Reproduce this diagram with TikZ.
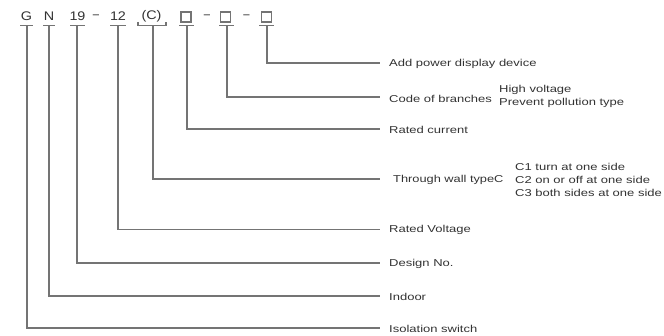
\documentclass[tikz,border=0pt]{standalone}
\usepackage{fontspec}
\usepackage{graphicx}
\setmainfont{Liberation Sans}
\definecolor{ln}{HTML}{747474}
\definecolor{tx}{HTML}{333333}
\newcommand{\widetxt}[1]{\scalebox{1.3}[1]{#1}}
\newcommand{\widecode}[1]{\scalebox{1.15}[1]{#1}}
\begin{document}
\begin{tikzpicture}[x=1pt,y=-1pt,
  lbl/.style={anchor=west,inner sep=0pt,text=tx,font=\fontsize{10}{11}\selectfont},
  code/.style={inner sep=0pt,text=tx,font=\fontsize{12.5}{13}\selectfont},
  lead/.style={draw=ln,line width=1.2pt},
  ul/.style={draw=ln,line width=1.1pt},
  boxc/.style={draw=ln,line width=1.1pt,minimum width=10pt,minimum height=10pt,inner sep=0pt}]
\useasboundingbox[fill=white] (0,0) rectangle (664,336);

% code characters
\node[code] (g)  at (26.5,16.5) {\widecode{G}};
\node[code] (n)  at (49,16.5) {\widecode{N}};
\node[code] (c19) at (77.5,16.5) {\widecode{19}};
\node[code] (d1) at (96,16.5) {\scalebox{0.9}[1]{–}};
\node[code] (c12) at (118,16.5) {\widecode{12}};
\node[code] (cc) at (151.5,16.5) {\widecode{(C)}};
\node[boxc] (b1) at (186,17) {};
\node[code] (d2) at (207,16.5) {\scalebox{0.9}[1]{–}};
\node[boxc] (b2) at (225.5,17) {};
\node[code] (d3) at (246.5,16.5) {\scalebox{0.9}[1]{–}};
\node[boxc] (b3) at (266.5,17) {};

% underlines
\draw[ul] (20,25.5) -- (33,25.5);
\draw[ul] (43,25.5) -- (55,25.5);
\draw[ul] (70,25.5) -- (85,25.5);
\draw[ul] (110,25.5) -- (126,25.5);
\draw[ul] (138,22) -- (138,25.5) -- (166,25.5) -- (166,22);
\draw[ul] (179,25.5) -- (194,25.5);
\draw[ul] (219,25.5) -- (234,25.5);
\draw[ul] (259,25.5) -- (274,25.5);

\coordinate (gu) at (27,25.5);
\coordinate (nu) at (49,25.5);
\coordinate (u19) at (77,25.5);
\coordinate (u12) at (118,25.5);
\coordinate (ucc) at (153,25.5);
\coordinate (ub1) at (187,25.5);
\coordinate (ub2) at (227,25.5);
\coordinate (ub3) at (267,25.5);

% labels
\node[lbl] (l1) at (389,64) {\widetxt{Add power display device}};
\node[lbl] (l2) at (389,98.5) {\widetxt{Code of branches}};
\node[lbl] (l2a) at (499,90) {\widetxt{High voltage}};
\node[lbl] (l2b) at (499,103) {\widetxt{Prevent pollution type}};
\node[lbl] (l3) at (389,130) {\widetxt{Rated current}};
\node[lbl] (l4) at (393,179.5) {\scalebox{1.28}[1]{Through wall typeC}};
\node[lbl] (l4a) at (515,166.5) {\widetxt{C1 turn at one side}};
\node[lbl] (l4b) at (515,179.5) {\widetxt{C2 on or off at one side}};
\node[lbl] (l4c) at (515,192.5) {\widetxt{C3 both sides at one side}};
\node[lbl] (l5) at (389,230) {\widetxt{Rated Voltage}};
\node[lbl] (l6) at (389,264) {\widetxt{Design No.}};
\node[lbl] (l7) at (389,297) {\widetxt{Indoor}};
\node[lbl] (l8) at (389,329) {\widetxt{Isolation switch}};

\coordinate (e1) at (380,63);
\coordinate (e2) at (380,97);
\coordinate (e3) at (380,129);
\coordinate (e4) at (380,179);
\coordinate (e5) at (380,229.5);
\coordinate (e6) at (380,263);
\coordinate (e7) at (380,296);
\coordinate (e8) at (380,328);

% leaders
\draw[lead] (ub3) |- (e1);
\draw[lead] (ub2) |- (e2);
\draw[lead] (ub1) |- (e3);
\draw[lead] (ucc) |- (e4);
\draw[lead] (u12) |- (e5);
\draw[lead] (u19) |- (e6);
\draw[lead] (nu) |- (e7);
\draw[lead] (gu) |- (e8);
\end{tikzpicture}
\end{document}
